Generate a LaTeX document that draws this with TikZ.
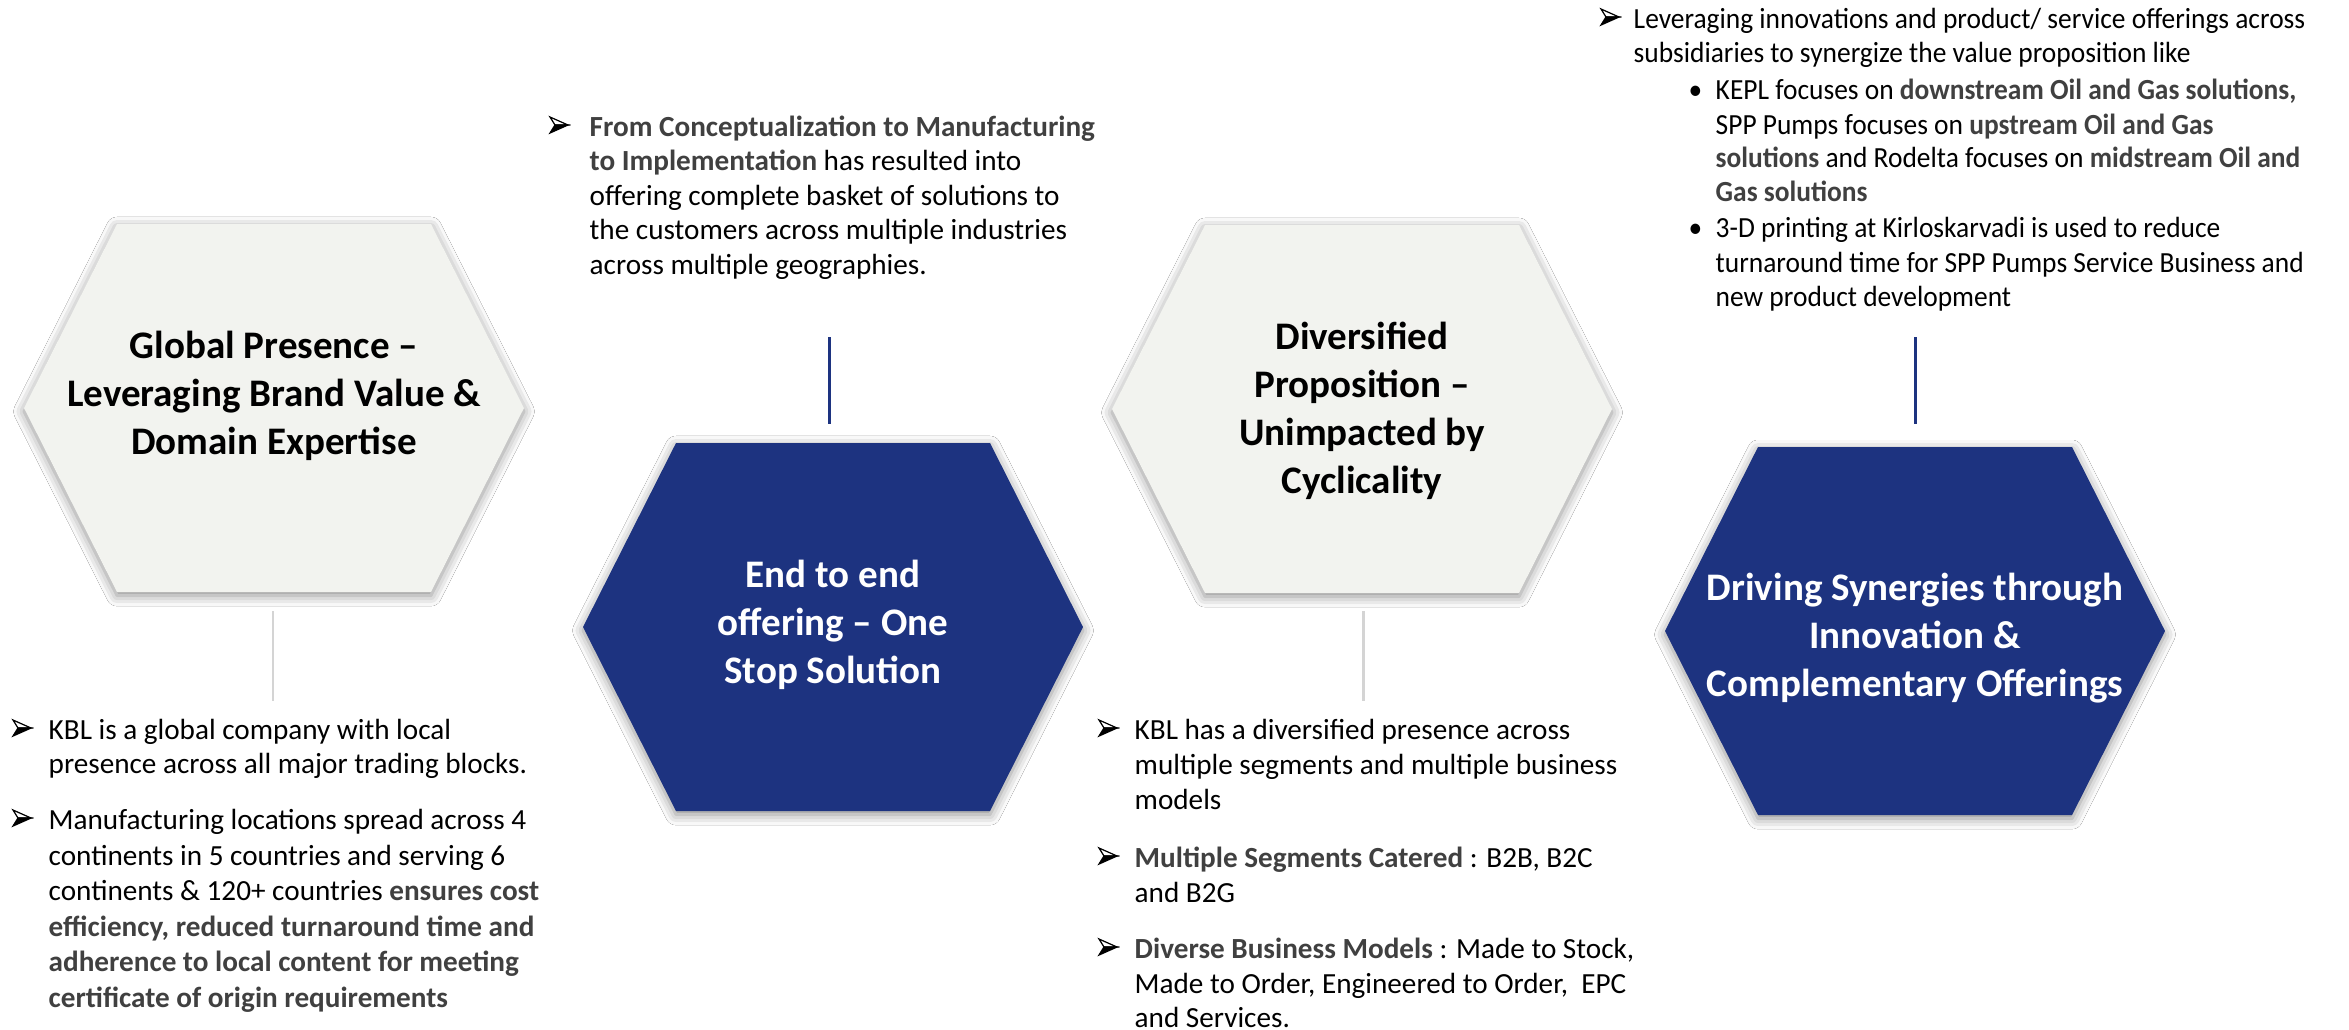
\documentclass[tikz,border=0pt]{standalone}
\usepackage{fontspec}
\setmainfont{Carlito}
\newfontfamily\condfont[FakeStretch=0.94]{Carlito}
\usetikzlibrary{calc,shadows.blur}
\definecolor{kblue}{RGB}{29,51,128}
\definecolor{kgray}{RGB}{242,243,239}
\definecolor{boldgray}{RGB}{64,64,64}
\definecolor{linegray}{RGB}{212,212,212}
\newcommand\bt[1]{\textbf{\color{boldgray}#1}}
\newcommand\hexat[2]{\path[#2] ($(#1)+(-250,0)$) -- ++(93,-184) -- ++(314,0) -- ++(93,184) -- ++(-93,184) -- ++(-314,0) -- cycle;}
\tikzset{
  hexshadow/.style={blur shadow={shadow xshift=0pt,shadow yshift=-1pt,shadow blur radius=3pt,shadow opacity=45}},
  hexlight/.style={fill=kgray,hexshadow},
  hexdark/.style={fill=kblue,hexshadow},
  hextitle/.style={align=center,inner sep=0pt,font=\bfseries\fontsize{11.1}{13.66}\selectfont},
  body/.style={anchor=base west,inner sep=0pt,font=\fontsize{8.3}{10}\selectfont},
  bodyc/.style={anchor=base west,inner sep=0pt,font=\condfont\fontsize{8.3}{10}\selectfont},
  grayline/.style={draw=linegray,line width=0.85pt},
  blueline/.style={draw=kblue,line width=0.85pt},
  arrowbullet/.pic={
    \filldraw[fill=white,draw=black,line width=0.35pt,line join=miter] (0,-8) -- (18,0) -- (5,0) -- cycle;
    \filldraw[fill=black,draw=black,line width=0.35pt,line join=miter] (0,8) -- (18,0) -- (5,0) -- cycle;
  }
}
\begin{document}
\begin{tikzpicture}[x=0.01cm,y=-0.01cm]
\useasboundingbox (0,0) rectangle (2349,1029);
\fill[white] (0,0) rectangle (2349,1029);
% hexagon centres
\coordinate (h1) at (274,408);
\coordinate (h2) at (833,627);
\coordinate (h3) at (1362,409);
\coordinate (h4) at (1915,631);
\hexat{h1}{hexlight}
\hexat{h2}{hexdark}
\hexat{h3}{hexlight}
\hexat{h4}{hexdark}
\node[hextitle] (t1) at ($(h1)+(0,-12)$) {Global Presence –\\Leveraging Brand Value \&\\Domain Expertise};
\node[hextitle,text=white] (t2) at ($(h2)+(0,-2)$) {End to end\\offering – One\\Stop Solution};
\node[hextitle] (t3) at ($(h3)+(0,2)$) {Diversified\\Proposition –\\Unimpacted by\\Cyclicality};
\node[hextitle,text=white] (t4) at ($(h4)+(0,7)$) {Driving Synergies through\\Innovation \&\\Complementary Offerings};
% connectors
\coordinate (g1a) at (273,611); \coordinate (g1b) at (273,701);
\coordinate (g3a) at (1363,611); \coordinate (g3b) at (1363,701);
\coordinate (b2a) at (829,337); \coordinate (b2b) at (829,424);
\coordinate (b4a) at (1915,337); \coordinate (b4b) at (1915,424);
\draw[grayline] (g1a) -- (g1b);
\draw[grayline] (g3a) -- (g3b);
\draw[blueline] (b2a) -- (b2b);
\draw[blueline] (b4a) -- (b4b);
% block A
\pic at (13,728) {arrowbullet};
\node[body] (A1) at (48,739) {KBL is a global company with local};
\node[body] (A2) at (48,773) {presence across all major trading blocks.};
\pic at (13,818) {arrowbullet};
\node[body] (A3) at (48,829) {Manufacturing locations spread across 4};
\node[body] (A4) at (48,865) {continents in 5 countries and serving 6};
\node[body] (A5) at (48,900) {continents \& 120+ countries \bt{ensures cost}};
\node[body] (A6) at (48,936) {\bt{efficiency, reduced turnaround time and}};
\node[body] (A7) at (48,971) {\bt{adherence to local content for meeting}};
\node[body] (A8) at (48,1007) {\bt{certificate of origin requirements}};
% block B
\pic at (550,125) {arrowbullet};
\node[body] (B1) at (589,136) {\bt{From Conceptualization to Manufacturing}};
\node[body] (B2) at (589,170) {\bt{to Implementation} has resulted into};
\node[body] (B3) at (589,205) {offering complete basket of solutions to};
\node[body] (B4) at (589,239) {the customers across multiple industries};
\node[body] (B5) at (589,274) {across multiple geographies.};
% block C
\pic at (1099,728) {arrowbullet};
\node[body] (C1) at (1134,739) {KBL has a diversified presence across};
\node[body] (C2) at (1134,774) {multiple segments and multiple business};
\node[body] (C3) at (1134,809) {models};
\pic at (1099,856) {arrowbullet};
\node[body] (C4) at (1134,867) {\bt{Multiple Segments Catered} : B2B, B2C};
\node[body] (C5) at (1134,902) {and B2G};
\pic at (1099,947) {arrowbullet};
\node[body] (C6) at (1134,958) {\bt{Diverse Business Models} : Made to Stock,};
\node[body] (C7) at (1134,993) {Made to Order, Engineered to Order, \ EPC};
\node[body] (C8) at (1134,1027) {and Services.};
% block D
\pic at (1601,17) {arrowbullet};
\node[bodyc] (D1) at (1633,28) {Leveraging innovations and product/ service offerings across};
\node[bodyc] (D2) at (1633,62) {subsidiaries to synergize the value proposition like};
\node[bodyc] (dD3) at (1688,99) {•};
\node[bodyc] (D3) at (1715,99) {KEPL focuses on \bt{downstream Oil and Gas solutions,}};
\node[bodyc] (D4) at (1715,134) {SPP Pumps focuses on \bt{upstream Oil and Gas}};
\node[bodyc] (D5) at (1715,167) {\bt{solutions} and Rodelta focuses on \bt{midstream Oil and}};
\node[bodyc] (D6) at (1715,201) {\bt{Gas solutions}};
\node[bodyc] (dD7) at (1688,237) {•};
\node[bodyc] (D7) at (1715,237) {3-D printing at Kirloskarvadi is used to reduce};
\node[bodyc] (D8) at (1715,272) {turnaround time for SPP Pumps Service Business and};
\node[bodyc] (D9) at (1715,306) {new product development};
\end{tikzpicture}
\end{document}
